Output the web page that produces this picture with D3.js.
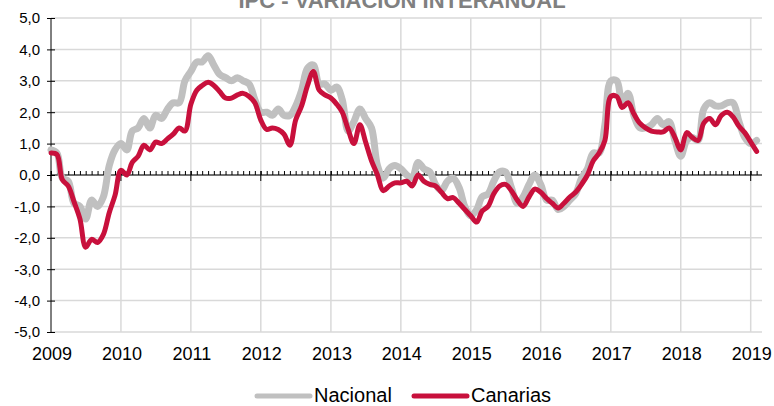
<!DOCTYPE html>
<html>
<head>
<meta charset="utf-8">
<script src="https://cdnjs.cloudflare.com/ajax/libs/d3/7.8.5/d3.min.js"></script>
<style>
  html, body { margin: 0; padding: 0; background: #fff; }
  svg { display: block; font-family: "Liberation Sans", Arial, sans-serif; }
</style>
</head>
<body>
<script>
'use strict';

// monthly year-on-year CPI change, Jan 2009 .. Feb 2019
const nacional = [
  0.8, 0.7, -0.1, -0.2, -0.9, -1.0, -1.4, -0.8, -1.0, -0.7, 0.3, 0.8,
  1.0, 0.8, 1.4, 1.5, 1.8, 1.5, 1.9, 1.8, 2.1, 2.3, 2.3, 3.0,
  3.3, 3.6, 3.6, 3.8, 3.5, 3.2, 3.1, 3.0, 3.1, 3.0, 2.9, 2.4,
  2.0, 2.0, 1.9, 2.1, 1.9, 1.9, 2.2, 2.7, 3.4, 3.5, 2.9, 2.9,
  2.7, 2.8, 2.4, 1.4, 1.7, 2.1, 1.8, 1.5, 0.3, -0.1, 0.2, 0.3,
  0.2, 0.0, -0.1, 0.4, 0.2, 0.1, -0.3, -0.5, -0.2, -0.1, -0.4, -1.0,
  -1.3, -1.1, -0.7, -0.6, -0.2, 0.1, 0.1, -0.4, -0.9, -0.7, -0.3, 0.0,
  -0.3, -0.8, -0.8, -1.1, -1.0, -0.8, -0.6, -0.1, 0.2, 0.7, 0.7, 1.6,
  3.0, 3.0, 2.3, 2.6, 1.9, 1.5, 1.5, 1.6, 1.8, 1.6, 1.7, 1.1,
  0.6, 1.1, 1.2, 1.1, 2.1, 2.3, 2.2, 2.2, 2.3, 2.3, 1.7, 1.2,
  1.0, 1.1
];

const canarias = [
  0.7, 0.65, -0.15, -0.35, -0.85, -1.4, -2.3, -2.05, -2.15, -1.9, -1.2, -0.65,
  0.15, 0.0, 0.4, 0.6, 0.95, 0.8, 1.05, 1.0, 1.15, 1.3, 1.5, 1.4,
  2.25, 2.7, 2.85, 2.95, 2.85, 2.65, 2.45, 2.45, 2.55, 2.6, 2.5, 2.3,
  1.75, 1.45, 1.5, 1.45, 1.3, 0.95, 1.75, 2.2, 2.85, 3.3, 2.7, 2.55,
  2.45, 2.25, 2.0, 1.45, 1.0, 1.6, 1.05, 0.45, 0.0, -0.5, -0.35, -0.25,
  -0.25, -0.2, -0.35, 0.0, -0.2, -0.3, -0.35, -0.55, -0.75, -0.72, -0.9, -1.1,
  -1.3, -1.5, -1.15, -1.0, -0.6, -0.35, -0.3, -0.5, -0.8, -1.0, -0.7, -0.45,
  -0.55, -0.75, -0.9, -1.05, -0.9, -0.7, -0.55, -0.3, 0.0, 0.45, 0.7, 1.1,
  2.5, 2.5, 2.15, 2.3, 1.95, 1.65, 1.5, 1.4, 1.37, 1.37, 1.5, 1.2,
  0.8, 1.35, 1.2, 1.1, 1.65, 1.8, 1.6, 1.9, 2.0, 1.85, 1.55, 1.35,
  1.05, 0.75
];

const years = [2009, 2010, 2011, 2012, 2013, 2014, 2015, 2016, 2017, 2018, 2019];
const yTicks = [-5, -4, -3, -2, -1, 0, 1, 2, 3, 4, 5];
const seriesNames = ["Nacional", "Canarias"];
const seriesColors = ["#c0c0c0", "#c8103c"];
const title = "IPC - VARIACIÓN INTERANUAL";

const startDate = new Date(2009, 0, 1);

let svg = "";

window.onload = function() {
  svg = d3.select('body')
    .append('svg')
    .attr('width', 774)
    .attr('height', 406);

  let x = d3.scaleTime()
    .domain([startDate, new Date(2019, 2, 1)])
    .range([51, 762]);

  let y = d3.scaleLinear()
    .domain([-5, 5])
    .range([332, 18]);

  drawGrid(x, y);
  drawAxes(x, y);
  drawLines(x, y);
  drawLegend();

  // title, top is cut off in the original
  svg.append('text')
    .attr('x', 402)
    .attr('y', 8)
    .attr('text-anchor', 'middle')
    .style('font-size', '22px')
    .style('font-weight', 'bold')
    .style('fill', '#808080')
    .text(title);
};

function drawGrid(x, y) {
  svg.append('g')
    .selectAll('line')
    .data(yTicks)
    .enter()
    .append('line')
      .attr('x1', 51)
      .attr('x2', 762)
      .attr('y1', d => y(d))
      .attr('y2', d => y(d))
      .style('stroke', '#d9d9d9')
      .style('stroke-width', 1.5);

  svg.append('g')
    .selectAll('line')
    .data(years.slice(1))
    .enter()
    .append('line')
      .attr('x1', d => x(new Date(d, 0, 1)))
      .attr('x2', d => x(new Date(d, 0, 1)))
      .attr('y1', y(5))
      .attr('y2', y(-5))
      .style('stroke', '#d9d9d9')
      .style('stroke-width', 1.5);
}

function drawAxes(x, y) {
  // y axis on the left
  let yAxis = d3.axisLeft(y)
    .tickValues(yTicks)
    .tickSize(4)
    .tickPadding(7)
    .tickFormat(d => d3.format('.1f')(d).replace('.', ',').replace('−', '-'));

  let gy = svg.append('g')
    .attr('transform', 'translate(51, 0)')
    .call(yAxis);
  gy.select('.domain').attr('d', 'M0,' + y(5) + 'V' + y(-5));
  gy.selectAll('.tick line').attr('x1', -4).attr('x2', 4);
  gy.selectAll('text')
    .style('font-size', '15px')
    .style('fill', '#000');

  // x axis along zero: monthly minor ticks pointing up
  let months = d3.timeMonth.range(startDate, new Date(2019, 2, 1));
  let xMinor = d3.axisTop(x)
    .tickValues(months)
    .tickSize(4)
    .tickFormat('');
  let gx = svg.append('g')
    .attr('transform', 'translate(0,' + y(0) + ')')
    .call(xMinor);
  gx.select('.domain').attr('d', 'M51,0H762');

  // major year ticks crossing the axis
  svg.append('g')
    .selectAll('line')
    .data(years)
    .enter()
    .append('line')
      .attr('x1', d => x(new Date(d, 0, 1)))
      .attr('x2', d => x(new Date(d, 0, 1)))
      .attr('y1', y(0) - 4)
      .attr('y2', y(0) + 6)
      .style('stroke', '#000');

  // year labels under the plot
  svg.append('g')
    .selectAll('text')
    .data(years)
    .enter()
    .append('text')
      .attr('x', d => x(new Date(d, 0, 1)) + 1)
      .attr('y', 360)
      .attr('text-anchor', 'middle')
      .style('font-size', '18px')
      .text(d => d);
}

function drawLines(x, y) {
  let line = d3.line()
    .x((d, i) => x(d3.timeMonth.offset(startDate, i)))
    .y(d => y(d))
    .curve(d3.curveCatmullRom);

  svg.append('path')
    .datum(nacional)
    .attr('d', line)
    .style('fill', 'none')
    .style('stroke', seriesColors[0])
    .style('stroke-width', 7)
    .style('stroke-linejoin', 'round')
    .style('stroke-linecap', 'round');

  svg.append('path')
    .datum(canarias)
    .attr('d', line)
    .style('fill', 'none')
    .style('stroke', seriesColors[1])
    .style('stroke-width', 5)
    .style('stroke-linejoin', 'round')
    .style('stroke-linecap', 'round');
}

function drawLegend() {
  let items = [
    { x: 257, text: 314 },
    { x: 414, text: 471 }
  ];

  items.forEach((it, i) => {
    svg.append('line')
      .attr('x1', it.x)
      .attr('x2', it.x + 53)
      .attr('y1', 396)
      .attr('y2', 396)
      .style('stroke', seriesColors[i])
      .style('stroke-width', 5)
      .style('stroke-linecap', 'round');

    svg.append('text')
      .attr('x', it.text)
      .attr('y', 402)
      .style('font-size', '20px')
      .text(seriesNames[i]);
  });
}
</script>
</body>
</html>
